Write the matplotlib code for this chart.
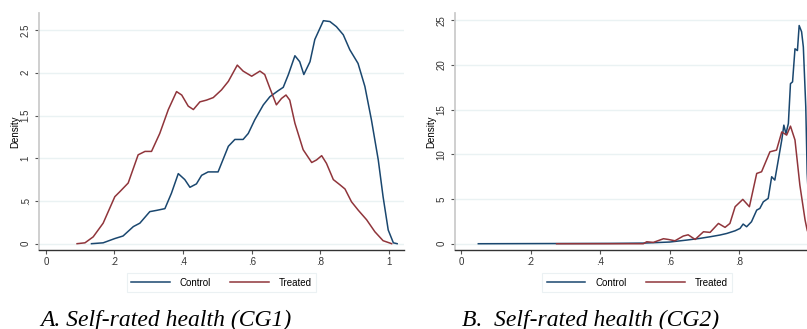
import matplotlib
matplotlib.use("Agg")
import matplotlib.pyplot as plt

# ---------- Data ----------
# Panel A: Self-rated health (CG1)
a_ctrl_x = [0.133, 0.167, 0.201, 0.225, 0.255, 0.274, 0.303, 0.323, 0.347, 0.366, 0.386, 0.405,
            0.420, 0.439, 0.454, 0.473, 0.502, 0.532, 0.551, 0.575, 0.590, 0.609, 0.634, 0.653,
            0.677, 0.692, 0.707, 0.726, 0.740, 0.752, 0.770, 0.784, 0.809, 0.828, 0.847, 0.867,
            0.886, 0.910, 0.930, 0.949, 0.969, 0.983, 0.998, 1.013, 1.024]
a_ctrl_y = [0.0, 0.01, 0.06, 0.09, 0.20, 0.24, 0.375, 0.39, 0.41, 0.59, 0.82, 0.75,
            0.66, 0.70, 0.80, 0.84, 0.84, 1.14, 1.22, 1.22, 1.29, 1.45, 1.625, 1.72,
            1.79, 1.83, 1.98, 2.20, 2.13, 1.98, 2.13, 2.39, 2.61, 2.60, 2.54, 2.445,
            2.27, 2.11, 1.84, 1.45, 0.98, 0.55, 0.16, 0.01, 0.0]
a_trt_x = [0.091, 0.114, 0.138, 0.167, 0.201, 0.216, 0.240, 0.269, 0.289, 0.308, 0.332, 0.357,
           0.381, 0.396, 0.415, 0.430, 0.449, 0.468, 0.488, 0.512, 0.532, 0.558, 0.575, 0.600,
           0.624, 0.638, 0.653, 0.672, 0.687, 0.700, 0.711, 0.726, 0.750, 0.775, 0.789, 0.804,
           0.818, 0.838, 0.857, 0.872, 0.891, 0.911, 0.935, 0.959, 0.983, 1.008]
a_trt_y = [0.0, 0.01, 0.08, 0.24, 0.55, 0.61, 0.71, 1.04, 1.08, 1.08, 1.29, 1.57,
           1.78, 1.74, 1.61, 1.57, 1.66, 1.68, 1.71, 1.80, 1.90, 2.09, 2.02, 1.96,
           2.02, 1.98, 1.82, 1.625, 1.70, 1.74, 1.68, 1.41, 1.10, 0.95, 0.98, 1.03,
           0.94, 0.75, 0.69, 0.64, 0.49, 0.39, 0.28, 0.14, 0.035, 0.0]

# Panel B: Self-rated health (CG2)
b_ctrl_x = [0.05, 0.428, 0.524, 0.600, 0.649, 0.687, 0.716, 0.744, 0.764, 0.788, 0.802, 0.811,
            0.821, 0.835, 0.850, 0.859, 0.869, 0.883, 0.893, 0.902, 0.912, 0.922, 0.928, 0.934,
            0.941, 0.947, 0.953, 0.960, 0.967, 0.972, 0.979, 0.984, 0.991, 0.995, 1.002, 1.012, 1.022]
b_ctrl_y = [0.0, 0.04, 0.07, 0.19, 0.41, 0.60, 0.78, 0.97, 1.15, 1.45, 1.71, 2.2,
            1.9, 2.46, 3.76, 3.95, 4.69, 5.07, 7.49, 7.12, 9.35, 11.6, 13.26, 12.3,
            13.45, 17.9, 18.1, 21.8, 21.6, 24.4, 23.7, 22.0, 15.3, 7.9, 2.5, 0.3, 0.0]
b_trt_x = [0.275, 0.524, 0.534, 0.553, 0.582, 0.596, 0.615, 0.639, 0.653, 0.673, 0.697, 0.716,
           0.740, 0.759, 0.773, 0.788, 0.810, 0.829, 0.850, 0.864, 0.888, 0.907, 0.922, 0.936,
           0.947, 0.960, 0.974, 0.989, 0.995, 1.005, 1.015]
b_trt_y = [0.0, 0.0, 0.22, 0.15, 0.56, 0.48, 0.33, 0.86, 1.0, 0.48, 1.34, 1.27,
           2.27, 1.83, 2.27, 4.14, 4.96, 4.14, 7.86, 8.05, 10.28, 10.47, 12.5, 12.15,
           13.15, 11.6, 6.56, 2.65, 1.53, 0.4, 0.0]

a_x_ticks = [0, 0.2, 0.4, 0.6, 0.8, 1.0]
a_x_tick_labels = ["0", ".2", ".4", ".6", ".8", "1"]
b_x_ticks = [0, 0.2, 0.4, 0.6, 0.8]
b_x_tick_labels = ["0", ".2", ".4", ".6", ".8"]
a_y_ticks = [0, 0.5, 1, 1.5, 2, 2.5]
a_y_tick_labels = ["0", ".5", "1", "1.5", "2", "2.5"]
b_y_ticks = [0, 5, 10, 15, 20, 25]
b_y_tick_labels = ["0", "5", "10", "15", "20", "25"]
series_names = ["Control", "Treated"]
titles = ["A. Self-rated health (CG1)", "B.  Self-rated health (CG2)"]

# ---------- Style ----------
NAVY = "#1a476f"
MAROON = "#90353b"
GRID = "#eaf2f3"
W, H = 807, 329
plt.rcParams["font.family"] = ["Liberation Sans", "DejaVu Sans"]
fig = plt.figure(figsize=(W / 100, H / 100), dpi=100)
fig.patch.set_facecolor("white")

def px_axes(l, r, t, b):
    return [l / W, 1 - b / H, (r - l) / W, (b - t) / H]

panels = [
    dict(pos=px_axes(39, 404, 13, 250), xlim=(-0.02, 1.044), ylim=(-0.074, 2.70),
         cx=a_ctrl_x, cy=a_ctrl_y, tx=a_trt_x, ty=a_trt_y,
         xt=a_x_ticks, xtl=a_x_tick_labels,
         yt=a_y_ticks, ytl=a_y_tick_labels, title=titles[0], title_x=40),
    dict(pos=px_axes(455, 819, 13, 250), xlim=(-0.017, 1.029), ylim=(-0.70, 25.8),
         cx=b_ctrl_x, cy=b_ctrl_y, tx=b_trt_x, ty=b_trt_y,
         xt=b_x_ticks, xtl=b_x_tick_labels,
         yt=b_y_ticks, ytl=b_y_tick_labels, title=titles[1], title_x=462),
]

for p in panels:
    ax = fig.add_axes(p["pos"])
    ax.set_xlim(*p["xlim"])
    ax.set_ylim(*p["ylim"])
    for yv in p["yt"]:
        ax.axhline(yv, color=GRID, lw=1.0, zorder=0)
    l1, = ax.plot(p["cx"], p["cy"], color=NAVY, lw=1.1, label=series_names[0], zorder=3,
                  solid_joinstyle="round")
    l2, = ax.plot(p["tx"], p["ty"], color=MAROON, lw=1.1, label=series_names[1], zorder=3,
                  solid_joinstyle="round")
    ax.set_xticks(p["xt"])
    ax.set_xticklabels(p["xtl"], fontsize=7, color="#333333")
    ax.set_yticks(p["yt"])
    ax.set_yticklabels(p["ytl"], fontsize=7, color="#333333")
    ax.tick_params(axis="y", labelrotation=90, length=3, width=0.8, color="#555555", pad=3)
    ax.tick_params(axis="x", length=3, width=0.8, color="#555555", pad=2)
    for lab in ax.get_yticklabels():
        lab.set_va("center")
    ax.set_ylabel("Density", fontsize=7, labelpad=0)
    for s in ["top", "right"]:
        ax.spines[s].set_visible(False)
    ax.spines["left"].set_color("#cccccc")
    ax.spines["left"].set_linewidth(1.3)
    ax.spines["bottom"].set_color("#333333")
    ax.spines["bottom"].set_linewidth(1.0)
    leg = ax.legend(handles=[l1, l2], loc="center", ncol=2,
                    bbox_to_anchor=(0.5, -(282.5 - 250) / (250 - 13)),
                    fontsize=7, frameon=True, fancybox=False, handlelength=4.0,
                    columnspacing=2.0, handletextpad=1.0, borderpad=0.45)
    leg.get_frame().set_edgecolor("#e6eef0")
    leg.get_frame().set_linewidth(0.8)
    fig.text(p["title_x"] / W, 1 - 326 / H, p["title"], fontsize=17, style="italic",
             family=["Liberation Serif", "DejaVu Serif"], ha="left", va="baseline")

fig.savefig("out.png", dpi=100, facecolor="white")
